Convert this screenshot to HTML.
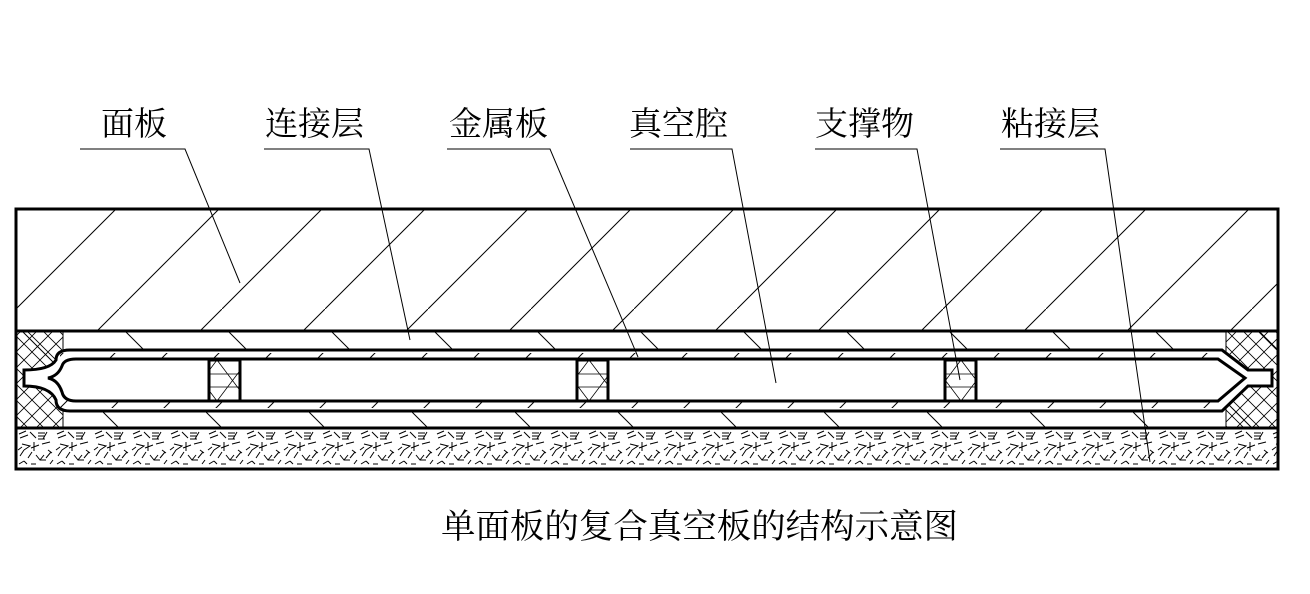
<!DOCTYPE html>
<html><head><meta charset="utf-8"><style>
html,body{margin:0;padding:0;background:#fff;}
svg{display:block;}
text{font-family:"Noto Serif CJK SC","Liberation Serif",serif;fill:#000;}
</style></head><body>
<svg width="1310" height="594" viewBox="0 0 1310 594" xmlns="http://www.w3.org/2000/svg">
<defs>
<pattern id="diag" width="103" height="103" patternUnits="userSpaceOnUse" patternTransform="translate(16,0)">
<line x1="0" y1="103" x2="103" y2="0" stroke="#000" stroke-width="1"/>
</pattern>
<pattern id="back" width="103" height="103" patternUnits="userSpaceOnUse">
<line x1="0" y1="0" x2="103" y2="103" stroke="#000" stroke-width="1"/>
</pattern>
<pattern id="small" width="52" height="52" patternUnits="userSpaceOnUse">
<line x1="0" y1="52" x2="52" y2="0" stroke="#000" stroke-width="1"/>
</pattern>
<pattern id="cross" width="16" height="16" patternUnits="userSpaceOnUse">
<path d="M0 0L16 16M16 0L0 16" stroke="#000" stroke-width="0.8"/>
</pattern>
<pattern id="sup" width="31" height="41" patternUnits="userSpaceOnUse" patternTransform="translate(0,360)">
<path d="M0 0L31 41M31 0L0 41M0 14H31M0 27H31" stroke="#000" stroke-width="0.8"/>
</pattern>
<pattern id="conc" width="38" height="40" patternUnits="userSpaceOnUse" patternTransform="translate(16,428)">
<path d="M3 6l7-3M4 10l8-3M14 4l6 6M22 5h7M22 8h7M22 11h7M31 4l-4 7M6 16l8 2l-6 4M18 14v9M15 20l8 -3M26 16l8-2M4 28l4-6M12 30l4-6M20 27l4 5l4-5M24 32h6M30 30l5-6M3 36l5-3M34 36l3-4M8 33l3 3M2 22l4-3M32 22l4 3M15 36h5" stroke="#000" stroke-width="1" fill="none"/>
</pattern>
</defs>

<rect x="16" y="209" width="1262" height="122" fill="url(#diag)" stroke="#000" stroke-width="3"/>
<rect x="16" y="331" width="1262" height="97" fill="url(#back)"/>
<rect x="16" y="331" width="47" height="97" fill="url(#cross)"/>
<rect x="1226" y="331" width="52" height="97" fill="url(#cross)"/>
<line x1="63" y1="331" x2="63" y2="428" stroke="#000" stroke-width="1"/>
<line x1="1226" y1="331" x2="1226" y2="428" stroke="#000" stroke-width="1"/>
<line x1="16" y1="331" x2="16" y2="428" stroke="#000" stroke-width="3"/>
<line x1="1278" y1="331" x2="1278" y2="428" stroke="#000" stroke-width="3"/>

<path d="M70 350 H1222 L1248 370 H1272 V386 H1248 L1222 411 H70 Q56 411 56 400 Q50 386 24 386 V370 Q50 370 56 360 Q56 350 70 350 Z" fill="#fff" stroke="#000" stroke-width="3"/>
<rect x="60" y="353" width="1160" height="55" fill="url(#small)"/>
<path d="M76 359 H1218 L1245 378 L1218 401 H76 Q64 401 62 392 Q58 380 48 378 Q58 376 62 366 Q64 359 76 359 Z" fill="#fff" stroke="#000" stroke-width="3"/>
<rect x="209" y="360" width="31" height="41" fill="url(#sup)" stroke="#000" stroke-width="3"/>
<rect x="577" y="360" width="31" height="41" fill="url(#sup)" stroke="#000" stroke-width="3"/>
<rect x="945" y="360" width="31" height="41" fill="url(#sup)" stroke="#000" stroke-width="3"/>

<rect x="16" y="428" width="1262" height="41" fill="url(#conc)" stroke="#000" stroke-width="3"/>

<g font-size="33">
<text x="101" y="135">面板</text>
<text x="265" y="135">连接层</text>
<text x="449" y="135">金属板</text>
<text x="629" y="135">真空腔</text>
<text x="815" y="135">支撑物</text>
<text x="1001" y="135">粘接层</text>
</g>
<g stroke="#000" stroke-width="1" fill="none">
<path d="M80 149H185L240 283"/>
<path d="M264 149H369L410 340"/>
<path d="M447 149H550L638 357"/>
<path d="M630 149H732L776 383"/>
<path d="M815 149H917L960 380"/>
<path d="M1000 149H1105L1150 462"/>
</g>
<text x="441" y="538" font-size="34" textLength="517" lengthAdjust="spacingAndGlyphs">单面板的复合真空板的结构示意图</text>
</svg>
</body></html>
